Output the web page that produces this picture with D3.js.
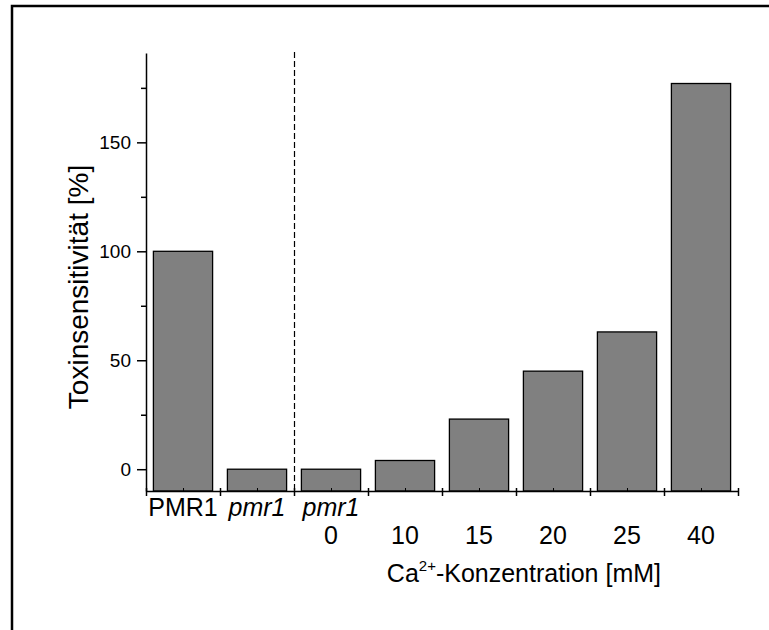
<!DOCTYPE html>
<html>
<head>
<meta charset="utf-8">
<script src="https://cdn.jsdelivr.net/npm/d3@7"></script>
<style>
	body { margin: 0; background: #fff; }
	svg { display: block; font-family: 'Liberation Sans', Arial, sans-serif; }
	.axis path, .axis line { stroke: #000; stroke-width: 1.5; }
	.axis text { fill: #000; font-family: 'Liberation Sans', Arial, sans-serif; }
</style>
</head>
<body>
<script>
// bar values, in % toxin sensitivity
const strains = ['PMR1', 'pmr1', 'pmr1', '', '', '', '', ''];
const calcium = ['', '', '0', '10', '15', '20', '25', '40'];
const values = [100, 0, 0, 4, 23, 45, 63, 177];
const MAJOR_TICKS = [0, 50, 100, 150];
const MINOR_TICKS = [25, 75, 125, 175];

const WIDTH = 769;
const HEIGHT = 630;
const LEFT = 146;
const RIGHT = 738;
const TOP = 53;
const BOTTOM = 491;

const svg = d3.select('body').append('svg')
	.attr('width', WIDTH)
	.attr('height', HEIGHT);

// frame, only top and left edges fall inside the picture
svg.append('rect')
	.attr('x', 12)
	.attr('y', 6)
	.attr('width', 900)
	.attr('height', 900)
	.attr('fill', 'none')
	.attr('stroke', '#000')
	.attr('stroke-width', 2.5);

const idx = d3.range(values.length);

const x = d3.scaleBand()
	.domain(idx)
	.range([LEFT, RIGHT])
	.paddingInner(0.2)
	.paddingOuter(0.1);

// band edges, for the ticks between groups
const edge = d3.scaleLinear().domain([0, values.length]).range([LEFT, RIGHT]);

const y = d3.scaleLinear().domain([-10, 191]).range([BOTTOM, TOP]);

svg.append('g')
	.selectAll('rect')
	.data(values)
	.join('rect')
	.attr('x', (d, i) => x(i))
	.attr('y', d => y(d))
	.attr('width', x.bandwidth())
	.attr('height', d => BOTTOM - y(d))
	.attr('fill', '#808080')
	.attr('stroke', '#000')
	.attr('stroke-width', 1.3);

// separator between strains and Ca series
svg.append('line')
	.attr('x1', edge(2) + 0.5)
	.attr('x2', edge(2) + 0.5)
	.attr('y1', 52)
	.attr('y2', BOTTOM)
	.attr('stroke', '#000')
	.attr('stroke-width', 1.2)
	.attr('stroke-dasharray', '6,3');

const axisY = d3.axisLeft(y)
	.tickValues(MAJOR_TICKS)
	.tickSizeInner(9)
	.tickSizeOuter(0)
	.tickPadding(6);

svg.append('g')
	.attr('class', 'axis axis--y')
	.attr('transform', `translate(${LEFT}, 0)`)
	.call(axisY)
	.call(g => g.selectAll('text').style('font-size', '19px'));

svg.append('g')
	.attr('class', 'axis axis--y-minor')
	.attr('transform', `translate(${LEFT}, 0)`)
	.call(d3.axisLeft(y).tickValues(MINOR_TICKS).tickSize(5).tickFormat(''))
	.call(g => g.select('.domain').remove());

const axisX = d3.axisBottom(edge)
	.tickValues(d3.range(values.length + 1))
	.tickSizeInner(5)
	.tickSizeOuter(0)
	.tickFormat('');

svg.append('g')
	.attr('class', 'axis axis--x')
	.attr('transform', `translate(0, ${BOTTOM})`)
	.call(axisX)
	.call(g => g.selectAll('.tick line').attr('y1', -3));

// small marks at bar centres
svg.append('g')
	.attr('class', 'axis axis--x-minor')
	.attr('transform', `translate(0, ${BOTTOM})`)
	.call(d3.axisBottom(edge).tickValues(idx.map(i => i + 0.5)).tickSize(-3).tickFormat(''))
	.call(g => g.select('.domain').remove())
	.call(g => g.selectAll('line').style('stroke-width', 1));

const labels = svg.append('g')
	.style('font-size', '25px')
	.attr('text-anchor', 'middle');

labels.selectAll('.strain')
	.data(strains)
	.join('text')
	.attr('class', 'strain')
	.attr('x', (d, i) => x(i) + x.bandwidth() / 2)
	.attr('y', 516)
	.style('font-style', d => d === 'pmr1' ? 'italic' : 'normal')
	.text(d => d);

labels.selectAll('.calcium')
	.data(calcium)
	.join('text')
	.attr('class', 'calcium')
	.attr('x', (d, i) => x(i) + x.bandwidth() / 2)
	.attr('y', 544)
	.text(d => d);

const xLabel = svg.append('text')
	.attr('x', 661)
	.attr('y', 582)
	.attr('text-anchor', 'end')
	.style('font-size', '25px');
xLabel.append('tspan').text('Ca');
xLabel.append('tspan').attr('dy', -11).style('font-size', '15px').text('2+');
xLabel.append('tspan').attr('dy', 11).text('-Konzentration [mM]');

svg.append('text')
	.attr('transform', 'translate(88, 287) rotate(-90)')
	.attr('text-anchor', 'middle')
	.style('font-size', '28px')
	.text('Toxinsensitivität [%]');
</script>
</body>
</html>
